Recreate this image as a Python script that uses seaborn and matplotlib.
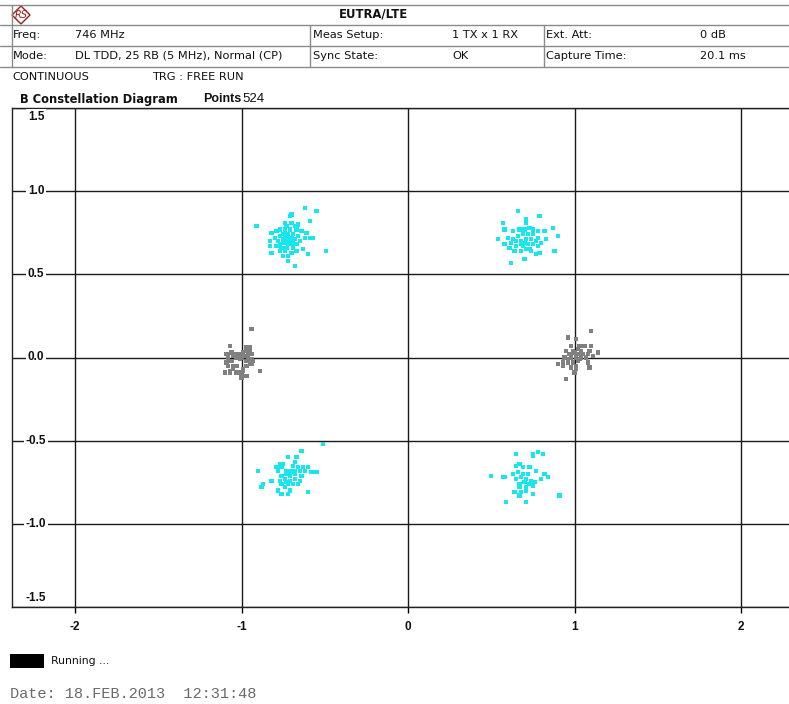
import numpy as np
import pandas as pd
import matplotlib
matplotlib.use("Agg")
import matplotlib.pyplot as plt
from matplotlib.lines import Line2D
from matplotlib.patches import Polygon, Rectangle
import seaborn as sns

# ---- measured constellation points (I, Q) ----
ul_i = [-0.62, -0.55, -0.70, -0.71, -0.59, -0.91, -0.74, -0.70, -0.66, -0.73, -0.68, -0.77, -0.74, -0.71,
        -0.67, -0.64, -0.61, -0.82, -0.79, -0.80, -0.77, -0.75, -0.72, -0.69, -0.66, -0.62, -0.59, -0.57,
        -0.83, -0.78, -0.75, -0.72, -0.68, -0.65, -0.77, -0.74, -0.71, -0.67, -0.83, -0.76, -0.73, -0.69,
        -0.63, -0.49, -0.82, -0.77, -0.74, -0.70, -0.67, -0.75, -0.72, -0.60, -0.72, -0.68, -0.79, -0.73,
        -0.71, -0.73, -0.70, -0.75, -0.69, -0.72, -0.74, -0.70]
ul_q = [0.90, 0.88, 0.86, 0.85, 0.82, 0.79, 0.81, 0.81, 0.80, 0.79, 0.79, 0.77, 0.77, 0.77,
        0.77, 0.76, 0.75, 0.75, 0.76, 0.72, 0.73, 0.74, 0.74, 0.74, 0.73, 0.72, 0.72, 0.72,
        0.70, 0.70, 0.71, 0.72, 0.71, 0.70, 0.68, 0.69, 0.69, 0.68, 0.67, 0.66, 0.66, 0.66,
        0.65, 0.64, 0.63, 0.64, 0.64, 0.63, 0.64, 0.61, 0.61, 0.62, 0.58, 0.55, 0.67, 0.74,
        0.71, 0.70, 0.72, 0.69, 0.70, 0.68, 0.72, 0.68]

ur_i = [0.66, 0.79, 0.71, 0.57, 0.71, 0.87, 0.58, 0.63, 0.67, 0.70, 0.73, 0.75, 0.78, 0.82, 0.90,
        0.54, 0.60, 0.63, 0.66, 0.69, 0.72, 0.75, 0.78, 0.83, 0.58, 0.62, 0.65, 0.68, 0.71, 0.74,
        0.77, 0.80, 0.61, 0.65, 0.69, 0.72, 0.75, 0.78, 0.88, 0.64, 0.68, 0.71, 0.74, 0.77, 0.79,
        0.70, 0.62, 0.73, 0.68, 0.70]
ur_q = [0.88, 0.85, 0.83, 0.81, 0.81, 0.78, 0.77, 0.76, 0.77, 0.77, 0.78, 0.77, 0.76, 0.76, 0.73,
        0.71, 0.72, 0.71, 0.73, 0.74, 0.74, 0.74, 0.72, 0.71, 0.68, 0.69, 0.70, 0.70, 0.71, 0.71,
        0.70, 0.69, 0.66, 0.67, 0.67, 0.68, 0.68, 0.67, 0.64, 0.64, 0.64, 0.65, 0.64, 0.62, 0.63,
        0.59, 0.57, 0.65, 0.68, 0.69]

ll_i = [-0.51, -0.64, -0.67, -0.72, -0.68, -0.77, -0.75, -0.79, -0.76, -0.69, -0.66, -0.63, -0.60,
        -0.90, -0.78, -0.73, -0.70, -0.68, -0.65, -0.62, -0.58, -0.55, -0.76, -0.73, -0.71, -0.68,
        -0.64, -0.82, -0.77, -0.74, -0.71, -0.68, -0.65, -0.87, -0.76, -0.72, -0.69, -0.66, -0.88,
        -0.74, -0.71, -0.78, -0.76, -0.72, -0.60, -0.70, -0.73]
ll_q = [-0.52, -0.56, -0.60, -0.60, -0.63, -0.64, -0.64, -0.66, -0.66, -0.65, -0.66, -0.66, -0.66,
        -0.68, -0.68, -0.68, -0.68, -0.68, -0.68, -0.68, -0.69, -0.69, -0.71, -0.70, -0.71, -0.70,
        -0.71, -0.74, -0.74, -0.73, -0.74, -0.73, -0.74, -0.76, -0.76, -0.76, -0.76, -0.76, -0.78,
        -0.78, -0.80, -0.80, -0.82, -0.82, -0.81, -0.69, -0.75]

lr_i = [0.65, 0.75, 0.78, 0.81, 0.75, 0.67, 0.65, 0.69, 0.73, 0.77, 0.50, 0.57, 0.63, 0.66, 0.69,
        0.72, 0.82, 0.84, 0.65, 0.68, 0.71, 0.74, 0.80, 0.67, 0.70, 0.73, 0.76, 0.67, 0.71, 0.75,
        0.64, 0.68, 0.71, 0.75, 0.67, 0.91, 0.59, 0.71, 0.58]
lr_q = [-0.58, -0.58, -0.57, -0.58, -0.59, -0.64, -0.65, -0.66, -0.66, -0.68, -0.71, -0.72, -0.70,
        -0.69, -0.70, -0.70, -0.70, -0.72, -0.73, -0.72, -0.73, -0.74, -0.73, -0.76, -0.75, -0.76,
        -0.75, -0.78, -0.78, -0.77, -0.81, -0.81, -0.80, -0.82, -0.83, -0.83, -0.87, -0.87, -0.72]

gl_i = [-0.94, -1.07, -0.97, -0.95, -1.09, -1.06, -1.03, -1.01, -0.99, -0.97, -0.95, -0.94, -1.08, -1.05,
        -1.03, -1.00, -0.98, -0.96, -0.94, -1.09, -1.06, -1.01, -0.97, -0.95, -0.93, -1.08, -1.05, -1.03,
        -0.97, -0.94, -1.07, -1.05, -0.99, -0.99, -1.10, -1.07, -1.03, -1.00, -0.89, -0.99, -0.96, -1.00,
        -0.97]
gl_q = [0.17, 0.07, 0.06, 0.06, 0.02, 0.03, 0.02, 0.02, 0.03, 0.04, 0.03, 0.02, 0.00, 0.01,
        0.00, 0.00, 0.01, 0.00, -0.01, -0.03, -0.02, -0.01, -0.02, -0.03, -0.02, -0.05, -0.05, -0.05,
        -0.05, -0.04, -0.08, -0.07, -0.07, -0.08, -0.09, -0.09, -0.09, -0.09, -0.08, 0.01, 0.02, -0.12,
        -0.11]

gr_i = [1.10, 0.96, 1.01, 1.03, 1.06, 1.10, 0.98, 0.95, 1.14, 0.99, 1.02, 1.04, 1.09, 0.97, 1.00,
        1.03, 1.05, 1.08, 1.11, 0.94, 0.98, 1.01, 1.04, 1.07, 0.90, 0.93, 0.96, 0.99, 1.02, 1.08,
        0.93, 0.98, 1.01, 1.09, 1.00, 1.01, 0.95, 0.96, 1.03]
gr_q = [0.16, 0.12, 0.11, 0.07, 0.07, 0.07, 0.07, 0.04, 0.03, 0.04, 0.05, 0.04, 0.04, 0.02, 0.03,
        0.02, 0.02, 0.02, 0.01, 0.00, 0.00, 0.00, 0.00, 0.00, -0.04, -0.03, -0.03, -0.03, -0.02, -0.03,
        -0.05, -0.06, -0.05, -0.06, -0.09, -0.07, -0.13, -0.01, -0.01]

x_ticks = [-2, -1, 0, 1, 2]
y_ticks = [-1.5, -1.0, -0.5, 0.0, 0.5, 1.0, 1.5]

header_rows = [
    ("Freq:", "746 MHz", "Meas Setup:", "1 TX x 1 RX", "Ext. Att:", "0 dB"),
    ("Mode:", "DL TDD, 25 RB (5 MHz), Normal (CP)", "Sync State:", "OK", "Capture Time:", "20.1 ms"),
]

# ---- build the frame ----
data_i = ul_i + ur_i + ll_i + lr_i
data_q = ul_q + ur_q + ll_q + lr_q
pil_i = gl_i + gr_i
pil_q = gl_q + gr_q
df = pd.DataFrame({
    "I": data_i + pil_i,
    "Q": data_q + pil_q,
    "kind": ["data"] * len(data_i) + ["ref"] * len(pil_i),
})

W, H = 789, 704
sns.set_theme(style="white")
plt.rcParams["font.family"] = ["DejaVu Sans"]
fig = plt.figure(figsize=(W / 100, H / 100), dpi=100)
fig.patch.set_facecolor("white")


def fx(px):
    return px / W


def fy(py):
    return 1 - py / H


# axes placed in pixel terms
left_px, right_px, top_px, bot_px = 12, 789, 108, 607
ax = fig.add_axes([fx(left_px), fy(bot_px), fx(right_px - left_px), (bot_px - top_px) / H])
ax.set_facecolor("white")

sns.scatterplot(data=df, x="I", y="Q", hue="kind",
                palette={"data": "#18e6ee", "ref": "#808080"},
                marker="s", s=9, linewidth=0, legend=False, ax=ax, zorder=3)

scale = 166.5  # pixels per unit
ax.set_xlim((left_px - 408) / scale, (right_px - 408) / scale)
ax.set_ylim(-1.5, 1.5)
ax.set_xticks(x_ticks)
ax.set_xticklabels([str(t) for t in x_ticks], fontfamily="Liberation Sans",
                   fontweight="bold", fontsize=8.5, color="#111111")
ax.set_yticks(y_ticks)
ax.set_yticklabels([])
ax.tick_params(axis="x", length=4, width=1, color="black", direction="out", pad=6, bottom=True)
ax.tick_params(axis="y", length=0)
ax.set_xlabel("")
ax.set_ylabel("")
ax.grid(True, color="#1a1a1a", linewidth=1.0, zorder=1)
ax.set_axisbelow(True)
for side in ["left", "top", "bottom"]:
    ax.spines[side].set_visible(True)
    ax.spines[side].set_color("#222222")
    ax.spines[side].set_linewidth(1.0)
ax.spines["right"].set_visible(False)

# y tick labels drawn inside the plot on white patches
label_x = (36 - 408) / scale
for v in y_ticks:
    yv = float(np.clip(v, -1.445, 1.445))
    ax.text(label_x, yv, f"{v:.1f}", ha="center", va="center",
            fontfamily="Liberation Sans", fontweight="bold", fontsize=8.5, color="#111111",
            bbox=dict(facecolor="white", edgecolor="none", pad=1.5), zorder=4)

# ---- header table ----
line_col = "#8a8a8a"
for py in [5, 25, 46, 67]:
    fig.add_artist(Line2D([0, 1], [fy(py), fy(py)], color=line_col, lw=1))
fig.add_artist(Line2D([fx(11.5), fx(11.5)], [fy(5), fy(67)], color=line_col, lw=1))
for px in [310, 544]:
    fig.add_artist(Line2D([fx(px), fx(px)], [fy(25), fy(67)], color=line_col, lw=1))

# logo
cx, cy, r = 21, 15, 9
fig.add_artist(Polygon([(fx(cx - r), fy(cy)), (fx(cx), fy(cy - r)), (fx(cx + r), fy(cy)), (fx(cx), fy(cy + r))],
                       closed=True, facecolor="white", edgecolor="#9b1c1c", lw=1))
fig.text(fx(cx), fy(cy), "RS", ha="center", va="center", fontsize=7, color="#9b1c1c",
         fontstyle="italic")

fig.text(fx(374), fy(14), "EUTRA/LTE", ha="center", va="center", fontsize=8.4,
         fontweight="bold", color="#111111")

hdr_fs = 8.2
col_x = [13, 75, 313, 452, 546, 700]
for row, py in zip(header_rows, [35, 56]):
    for txt, px in zip(row, col_x):
        fig.text(fx(px), fy(py), txt, ha="left", va="center", fontsize=hdr_fs, color="#111111")

fig.text(fx(12), fy(77), "CONTINUOUS", ha="left", va="center", fontsize=hdr_fs, color="#111111")
fig.text(fx(152), fy(77), "TRG : FREE RUN", ha="left", va="center", fontsize=hdr_fs, color="#111111")

fig.text(fx(20), fy(99), "B Constellation Diagram", ha="left", va="center", fontsize=8.3,
         fontweight="bold", color="#111111")
fig.text(fx(203), fy(99), "Points", ha="left", va="center", fontsize=9,
         fontfamily="Liberation Sans", fontweight="bold", color="#111111")
fig.text(fx(242), fy(99), "524", ha="left", va="center", fontsize=9.5,
         fontfamily="Liberation Sans", color="#111111")

# ---- footer ----
fig.add_artist(Rectangle((fx(10), fy(668)), fx(34), 14 / H, facecolor="black", edgecolor="none"))
fig.text(fx(51), fy(661), "Running ...", ha="left", va="center", fontsize=7.8, color="#111111")
fig.text(fx(10), fy(694), "Date: 18.FEB.2013  12:31:48", ha="left", va="center", fontsize=11,
         fontfamily="Liberation Mono", color="#6a6a6a")

fig.savefig("out.png", dpi=100, facecolor="white")
